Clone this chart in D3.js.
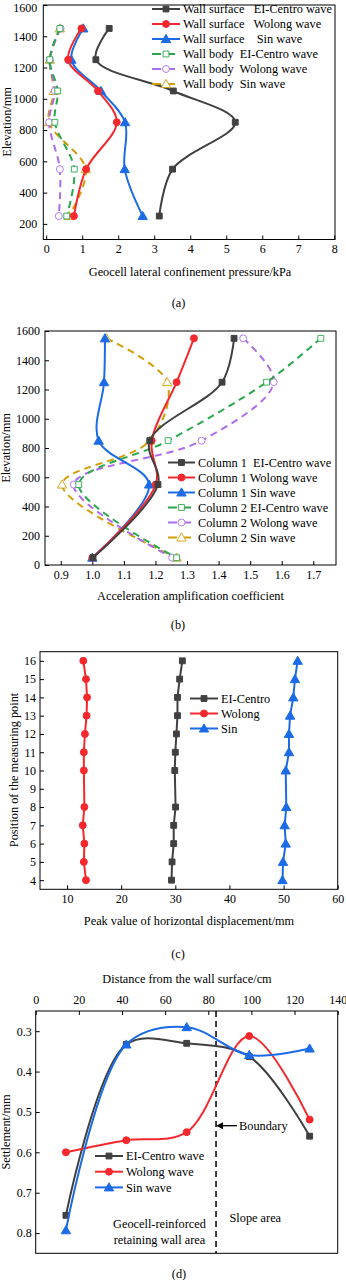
<!DOCTYPE html>
<html>
<head>
<meta charset="utf-8">
<title>geocell wall</title>
<script src="https://cdn.jsdelivr.net/npm/d3@7"></script>
<style>
  body { margin: 0; background: #fff; }
  text { font-family: "Liberation Serif", "Times New Roman", serif; fill: #000; }
</style>
</head>
<body>
<svg id="mainsvg" width="346" height="1280"></svg>
<script>
// ---- data (a) ----
const aElev = [1450, 1250, 1050, 850, 550, 250];
const aSurfEl = [1.75, 1.38, 3.53, 5.25, 3.51, 3.14];
const aSurfWol = [0.98, 0.61, 1.44, 1.96, 1.11, 0.77];
const aSurfSin = [1.03, 0.70, 1.52, 2.19, 2.18, 2.68];
const aBodyEl = [0.38, 0.10, 0.32, 0.24, 0.78, 0.57];
const aBodyWol = [0.40, 0.10, 0.24, 0.08, 0.38, 0.35];
const aBodySin = [0.38, 0.10, 0.21, 0.08, 1.10, 0.63];
const aXTicks = [0, 1, 2, 3, 4, 5, 6, 7, 8];
const aYTicks = [200, 400, 600, 800, 1000, 1200, 1400, 1600];

// ---- data (b) ----
const bElev = [1550, 1250, 850, 550, 50];
const bCol1El = [1.449, 1.411, 1.182, 1.208, 1.002];
const bCol1Wol = [1.322, 1.267, 1.188, 1.201, 1.0];
const bCol1Sin = [1.04, 1.037, 1.02, 1.18, 1.0];
const bCol2El = [1.724, 1.552, 1.24, 0.957, 1.267];
const bCol2Wol = [1.478, 1.575, 1.346, 0.941, 1.253];
const bCol2Sin = [1.045, 1.237, 1.182, 0.904, 1.267];
const bXTicks = [0.9, 1.0, 1.1, 1.2, 1.3, 1.4, 1.5, 1.6, 1.7];
const bYTicks = [0, 200, 400, 600, 800, 1000, 1200, 1400, 1600];

// ---- data (c) ----
const cPos = [16, 15, 14, 13, 12, 11, 10, 8, 7, 6, 5, 4];
const cEl = [31.3, 30.8, 30.4, 30.4, 30.2, 30.0, 29.9, 30.05, 29.7, 29.7, 29.4, 29.3];
const cWol = [13.0, 13.5, 13.7, 13.6, 13.3, 13.1, 13.1, 13.2, 12.9, 13.2, 13.1, 13.5];
const cSin = [52.6, 52.1, 51.8, 51.2, 51.0, 51.0, 50.4, 50.5, 50.2, 50.4, 49.9, 49.8];
const cXTicks = [10, 20, 30, 40, 50, 60];
const cYTicks = [4, 5, 6, 7, 8, 9, 10, 11, 12, 13, 14, 15, 16];

// ---- data (d) ----
const dDist = [14, 42, 70, 99, 127];
const dEl = [0.756, 0.333, 0.330, 0.363, 0.56];
const dWol = [0.60, 0.57, 0.55, 0.312, 0.519];
const dSin = [0.793, 0.333, 0.29, 0.359, 0.343];
const dBoundary = 83.6;
const dXTicks = [0, 20, 40, 60, 80, 100, 120, 140];
const dYTicks = [0.3, 0.4, 0.5, 0.6, 0.7, 0.8];

const GRAY = '#404040', RED = '#f5282d', BLUE = '#1c6be6';
const GREEN = '#2aa84e', PURPLE = '#ad6cec', GOLD = '#d29e08';

const svg = d3.select('#mainsvg');

function frame(g, x, y) {
  g.append('rect')
    .attr('x', x.range()[0]).attr('y', y.range()[1])
    .attr('width', x.range()[1] - x.range()[0])
    .attr('height', y.range()[0] - y.range()[1])
    .attr('fill', 'none').attr('stroke', '#000').attr('stroke-width', 1);
}

function styleAxis(a) {
  a.select('.domain').remove();
  a.selectAll('text').attr('font-size', '12px').attr('font-family', 'Liberation Serif');
  a.selectAll('line').attr('stroke', '#000');
}

function marker(g, shape, x, y, color, open) {
  const types = { sq: d3.symbolSquare, ci: d3.symbolCircle, tr: d3.symbolTriangle };
  const sizes = { sq: 34, ci: 38, tr: 38 };
  g.append('path')
    .attr('d', d3.symbol().type(types[shape]).size(sizes[shape])())
    .attr('transform', `translate(${x},${y + (shape === 'tr' ? 0.8 : 0)})`)
    .attr('fill', open ? '#fff' : color)
    .attr('stroke', color).attr('stroke-width', open ? 0.9 : 1);
}

function series(g, xs, ys, s, curve) {
  const pts = xs.map((v, i) => [v, ys[i]]);
  const line = d3.line().curve(curve);
  g.append('path').attr('d', line(pts))
    .attr('fill', 'none').attr('stroke', s.color)
    .attr('stroke-width', 2)
    .attr('stroke-dasharray', s.dash ? '7,5' : null);
  pts.forEach(p => marker(g, s.shape, p[0], p[1], s.color, s.dash));
}

function legend(g, x0, y0, dy, len, items) {
  items.forEach((it, i) => {
    const y = y0 + i * dy;
    g.append('line').attr('x1', x0).attr('x2', x0 + len).attr('y1', y).attr('y2', y)
      .attr('stroke', it.color).attr('stroke-width', 2)
      .attr('stroke-dasharray', it.dash ? '9,5' : null);
    marker(g, it.shape, x0 + len / 2, y, it.color, it.dash);
    g.append('text').attr('x', x0 + len + 3).attr('y', y).attr('dy', '0.35em')
      .attr('font-size', '12.3px').attr('xml:space', 'preserve').text(it.label);
  });
}

function label(text, x, y, rot) {
  svg.append('text').attr('text-anchor', 'middle').attr('dy', '0.35em')
    .attr('font-size', '12.3px')
    .attr('transform', `translate(${x},${y})` + (rot ? ' rotate(-90)' : ''))
    .text(text);
}

const curveS = d3.curveCatmullRom.alpha(0.5);

// ================= (a) =================
{
  const g = svg.append('g');
  const x = d3.scaleLinear().domain([-0.08, 8.02]).range([43.3, 335]);
  const y = d3.scaleLinear().domain([100, 1600]).range([239.5, 5]);
  frame(g, x, y);
  g.append('g').attr('transform', `translate(0,${y.range()[0]})`)
    .call(d3.axisBottom(x).tickValues(aXTicks).tickSizeInner(-4).tickSizeOuter(0).tickPadding(5))
    .call(styleAxis);
  g.append('g').attr('transform', `translate(${x.range()[0]},0)`)
    .call(d3.axisLeft(y).tickValues(aYTicks).tickFormat(d3.format('d')).tickSizeInner(-4).tickSizeOuter(0).tickPadding(6))
    .call(styleAxis)
    .selectAll('text').filter(d => d === 1600).attr('dy', '0.5em');
  const S = [
    { v: aSurfEl, color: GRAY, shape: 'sq', label: 'Wall surface   EI-Centro wave' },
    { v: aSurfWol, color: RED, shape: 'ci', label: 'Wall surface   Wolong wave' },
    { v: aSurfSin, color: BLUE, shape: 'tr', label: 'Wall surface    Sin wave' },
    { v: aBodyEl, color: GREEN, shape: 'sq', dash: true, label: 'Wall body  EI-Centro wave' },
    { v: aBodyWol, color: PURPLE, shape: 'ci', dash: true, label: 'Wall body  Wolong wave' },
    { v: aBodySin, color: GOLD, shape: 'tr', dash: true, label: 'Wall body  Sin wave' }
  ];
  S.slice().reverse().forEach(s => series(g, s.v.map(x), aElev.map(y), s, curveS));
  legend(g, 152, 9, 15, 28, S);
  label('Elevation/mm', 7, 122, true);
  label('Geocell lateral confinement pressure/kPa', 190, 272);
  label('(a)', 178.5, 303);
}

// ================= (b) =================
{
  const g = svg.append('g');
  const x = d3.scaleLinear().domain([0.85, 1.772]).range([45, 336]);
  const y = d3.scaleLinear().domain([0, 1600]).range([565, 331]);
  frame(g, x, y);
  g.append('g').attr('transform', `translate(0,${y.range()[0]})`)
    .call(d3.axisBottom(x).tickValues(bXTicks).tickFormat(d3.format('.1f')).tickSizeInner(-4).tickSizeOuter(0).tickPadding(5))
    .call(styleAxis);
  g.append('g').attr('transform', `translate(${x.range()[0]},0)`)
    .call(d3.axisLeft(y).tickValues(bYTicks).tickFormat(d3.format('d')).tickSizeInner(-4).tickSizeOuter(0).tickPadding(5))
    .call(styleAxis);
  const S = [
    { v: bCol1El, color: GRAY, shape: 'sq', label: 'Column 1  EI-Centro wave' },
    { v: bCol1Wol, color: RED, shape: 'ci', label: 'Column 1 Wolong wave' },
    { v: bCol1Sin, color: BLUE, shape: 'tr', label: 'Column 1 Sin wave' },
    { v: bCol2El, color: GREEN, shape: 'sq', dash: true, label: 'Column 2 EI-Centro wave' },
    { v: bCol2Wol, color: PURPLE, shape: 'ci', dash: true, label: 'Column 2 Wolong wave' },
    { v: bCol2Sin, color: GOLD, shape: 'tr', dash: true, label: 'Column 2 Sin wave' }
  ];
  S.slice().reverse().forEach(s => series(g, s.v.map(x), bElev.map(y), s, curveS));
  legend(g, 168, 462.5, 15, 27, S);
  label('Elevation/mm', 6, 448, true);
  label('Acceleration amplification coefficient', 190.5, 596);
  label('(b)', 178, 625);
}

// ================= (c) =================
{
  const g = svg.append('g');
  const x = d3.scaleLinear().domain([5, 60]).range([40, 337.7]);
  const y = d3.scaleLinear().domain([3.5, 16.5]).range([889.3, 651.7]);
  frame(g, x, y);
  g.append('g').attr('transform', `translate(0,${y.range()[0]})`)
    .call(d3.axisBottom(x).tickValues(cXTicks).tickSizeInner(-4).tickSizeOuter(0).tickPadding(5))
    .call(styleAxis);
  g.append('g').attr('transform', `translate(${x.range()[0]},0)`)
    .call(d3.axisLeft(y).tickValues(cYTicks).tickSizeInner(-4).tickSizeOuter(0).tickPadding(4))
    .call(styleAxis);
  const S = [
    { v: cEl, color: GRAY, shape: 'sq', label: 'EI-Centro' },
    { v: cWol, color: RED, shape: 'ci', label: 'Wolong' },
    { v: cSin, color: BLUE, shape: 'tr', label: 'Sin' }
  ];
  S.forEach(s => series(g, s.v.map(x), cPos.map(y), s, d3.curveLinear));
  legend(g, 190, 698.5, 15, 28, S);
  label('Position of the measuring point', 14, 770, true);
  label('Peak value of horizontal displacement/mm', 189, 921);
  label('(c)', 178, 953.5);
}

// ================= (d) =================
{
  const g = svg.append('g');
  const x = d3.scaleLinear().domain([0, 140]).range([35.7, 337.7]);
  const y = d3.scaleLinear().domain([0.85, 0.25]).range([1253.3, 1011]);
  frame(g, x, y);
  g.append('g').attr('transform', `translate(0,${y.range()[1]})`)
    .call(d3.axisTop(x).tickValues(dXTicks).tickSizeInner(-4).tickSizeOuter(0).tickPadding(7))
    .call(styleAxis);
  g.append('g').attr('transform', `translate(${x.range()[0]},0)`)
    .call(d3.axisLeft(y).tickValues(dYTicks).tickFormat(d3.format('.1f')).tickSizeInner(-4).tickSizeOuter(0).tickPadding(4))
    .call(styleAxis);
  // boundary
  g.append('line').attr('x1', x(dBoundary)).attr('x2', x(dBoundary))
    .attr('y1', y.range()[1]).attr('y2', y.range()[0])
    .attr('stroke', '#000').attr('stroke-width', 1.5).attr('stroke-dasharray', '6,4');
  const S = [
    { v: dEl, color: GRAY, shape: 'sq', label: 'EI-Centro wave' },
    { v: dWol, color: RED, shape: 'ci', label: 'Wolong wave' },
    { v: dSin, color: BLUE, shape: 'tr', label: 'Sin wave' }
  ];
  S.forEach(s => series(g, dDist.map(x), s.v.map(y), s, curveS));
  legend(g, 95, 1156, 15.7, 28, S);
  // boundary arrow
  const ay = 1125.7, ax = x(dBoundary);
  g.append('line').attr('x1', ax + 5).attr('x2', ax + 21).attr('y1', ay).attr('y2', ay)
    .attr('stroke', '#000').attr('stroke-width', 1.3);
  g.append('path').attr('d', `M${ax},${ay} L${ax + 7},${ay - 3.5} L${ax + 7},${ay + 3.5} Z`).attr('fill', '#000');
  g.append('text').attr('x', ax + 23).attr('y', ay).attr('dy', '0.35em').attr('font-size', '12.3px').text('Boundary');
  g.append('text').attr('x', 159.5).attr('y', 1224).attr('dy', '0.35em').attr('text-anchor', 'middle').attr('font-size', '12.3px').text('Geocell-reinforced');
  g.append('text').attr('x', 159.5).attr('y', 1239.5).attr('dy', '0.35em').attr('text-anchor', 'middle').attr('font-size', '12.3px').text('retaining wall area');
  g.append('text').attr('x', 229.5).attr('y', 1217.5).attr('dy', '0.35em').attr('font-size', '12.3px').text('Slope area');
  label('Settlement/mm', 6, 1132, true);
  label('Distance from the wall surface/cm', 187, 979);
  label('(d)', 179, 1273.5);
}
</script>
</body>
</html>
